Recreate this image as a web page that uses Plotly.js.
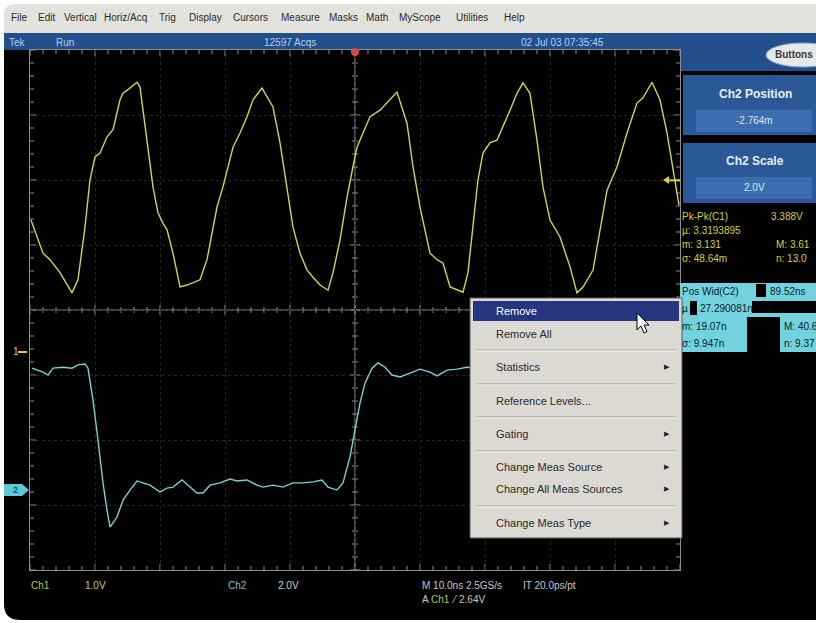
<!DOCTYPE html>
<html><head><meta charset="utf-8">
<script src="https://cdn.plot.ly/plotly-3.0.1.min.js"></script>
<style>html,body{margin:0;padding:0;background:#fff;overflow:hidden}#chart{width:816px;height:623px}</style>
</head><body><div id="chart"></div>
<script>
// ---- Channel 1 (yellow) : time in ns, volts ----
const ch1Time = [-49.85,-48.77,-48.0,-46.92,-45.38,-43.54,-42.62,-41.54,-40.77,-40.0,-39.23,-38.15,-37.23,-36.15,-35.69,-34.62,-33.54,-33.08,-32.0,-31.08,-30.31,-29.54,-28.92,-28.0,-26.92,-25.85,-23.85,-22.77,-21.23,-20.31,-18.77,-17.69,-16.62,-15.69,-14.31,-13.54,-12.62,-11.54,-10.46,-9.54,-8.46,-7.38,-6.46,-5.38,-4.15,-3.38,-2.31,-1.23,-0.31,0.31,1.23,2.31,3.85,5.38,6.46,8.0,8.92,10.0,11.54,12.62,13.54,14.62,16.62,17.38,18.15,18.92,19.69,20.77,21.85,22.77,23.85,24.92,25.85,26.92,28.0,28.92,30.0,31.54,33.08,34.15,35.08,36.62,38.15,38.77,40.31,41.85,43.38,44.31,45.69,46.92,48.0,48.92,49.85];
const ch1Volts = [2.03,1.72,1.52,1.42,1.22,0.91,1.11,1.92,2.65,3.00,3.06,3.31,3.42,3.88,3.98,4.06,4.15,4.08,3.26,2.54,2.14,1.98,1.88,1.52,1.00,1.03,1.11,1.42,2.23,2.54,3.15,3.37,3.62,3.88,4.06,3.92,3.77,3.22,2.54,1.92,1.52,1.26,1.15,1.03,0.95,1.22,1.72,2.38,2.85,3.15,3.37,3.62,3.72,3.88,4.00,3.52,2.85,2.23,1.52,1.42,1.37,1.00,0.92,1.22,1.92,2.65,3.06,3.22,3.26,3.46,3.72,3.98,4.14,3.98,3.26,2.54,2.03,1.77,1.31,0.91,1.00,1.26,2.14,2.49,2.85,3.37,3.83,3.91,4.15,3.88,3.37,2.85,2.26];
// ---- Channel 2 (cyan) ----
const ch2Time = [-49.69,-48.92,-48.0,-47.23,-46.46,-44.92,-43.54,-42.62,-41.54,-41.08,-40.31,-39.54,-38.77,-38.15,-37.69,-36.62,-35.69,-34.62,-33.54,-32.62,-31.54,-30.0,-28.92,-28.0,-26.62,-25.69,-24.31,-23.38,-22.31,-20.77,-19.23,-18.15,-16.62,-15.08,-14.15,-12.62,-11.08,-9.54,-8.0,-6.46,-5.08,-4.15,-2.77,-1.85,-0.77,0.0,0.77,1.54,2.62,3.54,4.62,5.69,6.92,8.46,10.0,11.54,12.62,14.15,15.69,17.23,22.31,31.54,40.77,50.0];
const ch2Volts = [3.75,3.69,3.63,3.54,3.75,3.78,3.75,3.85,3.88,3.75,2.77,1.54,0.22,-0.62,-1.14,-0.83,-0.31,0.0,0.28,0.22,0.15,-0.06,0.06,0.09,0.31,0.15,-0.09,-0.09,0.15,0.22,0.34,0.28,0.31,0.15,0.09,0.15,0.09,0.22,0.22,0.25,0.31,0.09,0.0,0.22,1.02,1.85,2.68,3.29,3.75,3.91,3.78,3.54,3.48,3.60,3.72,3.63,3.51,3.69,3.72,3.78,3.72,3.69,3.75,3.69];

// ---- scope settings / labels ----
const ch1Scale = 1.0, ch1GroundDiv = -0.646;
const ch2Scale = 2.0, ch2GroundDiv = -2.77;
const timeRange = [-50, 50];
const trigLevel = 2.64;
const menuItems = ['File','Edit','Vertical','Horiz/Acq','Trig','Display','Cursors','Measure','Masks','Math','MyScope','Utilities','Help'];
const statusTexts = ['Tek','Run','12597 Acqs','02 Jul 03 07:35:45'];
const ctxItems = ['Remove','Remove All','Statistics','Reference Levels...','Gating','Change Meas Source','Change All Meas Sources','Change Meas Type'];
const ctxSubmenu = [false,false,true,false,true,true,true,true];
const meas1Left = ['Pk-Pk(C1)','µ: 3.3193895','m: 3.131','σ: 48.64m'];
const meas1Right = ['3.388V','','M: 3.61','n: 13.0'];
const meas2Left = ['Pos Wid(C2)','µ','m: 19.07n','σ: 9.947n'];
const meas2Mid = ['','27.290081n','',''];
const meas2Right = ['89.52ns','','M: 40.6','n: 9.37'];

// ---- pixel -> paper helpers (plot area 30..680 x 50..570) ----
const L=30, T=50, W=650, H=520;
const X = p => (p - L) / W;
const Y = p => (T + H - p) / H;
const F = 'Liberation Sans, Arial, sans-serif';
const shapes = [], ann = [];
function rect(x0,y0,x1,y1,fill,layer,line){
  shapes.push({type:'rect',xref:'paper',yref:'paper',x0:X(x0),x1:X(x1),y0:Y(y1),y1:Y(y0),
    fillcolor:fill,line:line||{width:0},layer:layer||'above'});
}
function pline(x0,y0,x1,y1,color,w,layer){
  shapes.push({type:'line',xref:'paper',yref:'paper',x0:X(x0),x1:X(x1),y0:Y(y0),y1:Y(y1),
    line:{color:color,width:w||1},layer:layer||'above'});
}
function path(pts,fill,lineColor,layer){
  let d = pts.map((p,i)=>(i?'L':'M')+X(p[0])+','+Y(p[1])).join(' ')+' Z';
  shapes.push({type:'path',xref:'paper',yref:'paper',path:d,fillcolor:fill,
    line:lineColor?{color:lineColor,width:1}:{width:0},layer:layer||'above'});
}
function txt(x,y,t,size,color,anchor,fam,bold){
  ann.push({xref:'paper',yref:'paper',x:X(x),y:Y(y),text:bold?'<b>'+t+'</b>':t,showarrow:false,
    xanchor:anchor||'left',yanchor:'middle',font:{family:fam||F,size:size,color:color},borderpad:0});
}

// frame: light menu bar with rounded top-left, black body with rounded bottom-left
shapes.push({type:'path',xref:'paper',yref:'paper',layer:'below',fillcolor:'#e4e2dc',line:{width:0},
  path:'M'+X(816)+','+Y(4)+' L'+X(16)+','+Y(4)+' Q'+X(4)+','+Y(4)+' '+X(4)+','+Y(16)+' L'+X(4)+','+Y(40)+' L'+X(816)+','+Y(40)+' Z'});
shapes.push({type:'path',xref:'paper',yref:'paper',layer:'below',fillcolor:'#000000',line:{width:0},
  path:'M'+X(816)+','+Y(33)+' L'+X(4)+','+Y(33)+' L'+X(4)+','+Y(604)+' Q'+X(4)+','+Y(620)+' '+X(20)+','+Y(620)+' L'+X(816)+','+Y(620)+' Z'});
// status bar
rect(4,33,816,50,'#23508c','below');
rect(680,33,816,71,'#23508c','below');

// menu bar text
const menuX = [10,37,63,103,158,188,232,280,328,365,398,455,503];
menuItems.forEach((m,i)=>txt(menuX[i],17,m,10,'#2a2a2a'));
// status text
txt(8,42,statusTexts[0],10,'#b4cdf0');
txt(55,42,statusTexts[1],10,'#b4cdf0');
txt(263,42,statusTexts[2],10,'#b4cdf0');
txt(520,42,statusTexts[3],10,'#b4cdf0');
// Buttons oval
shapes.push({type:'circle',xref:'paper',yref:'paper',x0:X(766),x1:X(840),y0:Y(67),y1:Y(43),
  fillcolor:'#e6e8ea',line:{color:'#8fa6c4',width:1},layer:'above'});
txt(774,55,'Buttons',10,'#3a3a3a',null,F,true);

// right control panels
rect(683,75,816,135,'#2b5896');
rect(696,110,812,132,'#3b6db0');
txt(755,94,'Ch2 Position',12,'#e8eef8','center',F,true);
txt(754,121,'-2.764m',10,'#dde8ff','center');
rect(683,143,816,203,'#2b5896');
rect(696,177,812,199,'#3b6db0');
txt(755,161,'Ch2 Scale',12,'#e8eef8','center',F,true);
txt(754,188,'2.0V',10,'#dde8ff','center');

// measurement readouts
const mY1 = [216,230,244,258];
meas1Left.forEach((t,i)=>txt(681,mY1[i],t,10,'#d6d040'));
meas1Right.forEach((t,i)=>{ if(t) txt(i===0?770:775,mY1[i],t,10,'#d6d040'); });
rect(680,283,816,352,'#72d2de');
rect(756,284,766,297,'#000');
rect(690,301,697,315,'#000');
rect(752,301,816,313,'#000');
rect(747,317,780,352,'#000');
const mY2 = [291,308,326,343];
meas2Left.forEach((t,i)=>txt(681,mY2[i],t,10,'#0a2228'));
meas2Mid.forEach((t,i)=>{ if(t) txt(699,mY2[i],t,10,'#0a2228'); });
meas2Right.forEach((t,i)=>{ if(t) txt(i===0?769:783,mY2[i],t,10,'#0a2228'); });

// graticule: center cross + edge ticks
const gc = '#8e8e8e';
shapes.push({type:'line',xref:'x',yref:'paper',x0:0,x1:0,y0:0,y1:1,line:{color:gc,width:1},layer:'below'});
pline(30,310,680,310,gc,1,'below');
for(let i=0;i<=50;i++){
  const px=30+i*13, len=(i%5===0)?5:3;
  pline(px,310-len,px,310+len,gc,1,'below');
  pline(px,50,px,50+len+1,gc,1,'below');
  pline(px,570-len-1,px,570,gc,1,'below');
}
for(let i=0;i<=40;i++){
  const py=50+i*13, len=(i%5===0)?5:3;
  pline(355-len,py,355+len,py,gc,1,'below');
  pline(30,py,30+len+1,py,gc,1,'below');
  pline(680-len-1,py,680,py,gc,1,'below');
}

// channel markers
txt(12,352,'1',10,'#d6d040');
pline(18,352,27,352,'#d6d040',2);
path([[4,484],[22,484],[29,490],[22,496],[4,496]],'#5cc8d8');
txt(12,490,'2',9,'#0a3038');
// trigger position marker (red) and trigger level (yellow)
shapes.push({type:'circle',xref:'paper',yref:'paper',x0:X(351),x1:X(359),y0:Y(56),y1:Y(48),fillcolor:'#d84a4a',line:{width:0},layer:'above'});
shapes.push({type:'line',xref:'paper',yref:'y',x0:X(667),x1:X(680),y0:trigLevel,y1:trigLevel,line:{color:'#d6d040',width:2},layer:'above'});
shapes.push({type:'path',xref:'paper',yref:'paper',layer:'above',fillcolor:'#d6d040',line:{width:0},
  path:'M'+X(663)+','+Y(180)+' L'+X(669)+','+Y(176)+' L'+X(669)+','+Y(184)+' Z'});

// context menu
rect(470,298,682,538,'#dcd9d2','above',{color:'#5a5a5a',width:1});
rect(473,301,679,321,'#26357f');
const ctxY = [311,334,367,401,434,467,489,523];
ctxItems.forEach((t,i)=>{
  txt(495,ctxY[i],t,11,i===0?'#ffffff':'#2a2a2a');
  if(ctxSubmenu[i]) txt(667,ctxY[i],'▶',7,'#222','center','DejaVu Sans');
});
[350,384,417,451,506].forEach(y=>{ pline(476,y,676,y,'#a09d97',1); pline(476,y+1,676,y+1,'#f4f2ee',1); });
// mouse pointer
path([[637,313],[637,330],[641,326],[644,333],[647,331.5],[644,325],[649,325]],'#ffffff','#000000');

// bottom readouts
txt(30,585,'Ch1',10,'#b8c850');
txt(84,585,'1.0V',10,'#c8cc70');
txt(227,585,'Ch2',10,'#80c4c8');
txt(277,585,'2.0V',10,'#c0d4d4');
txt(421,585,'M 10.0ns 2.5GS/s',10,'#c8c8c8');
txt(522,585,'IT 20.0ps/pt',10,'#c8c8c8');
txt(421,599,'A',10,'#c8c8c8');
txt(430,599,'Ch1',10,'#b8c850');
txt(450,599,'⁄',10,'#c8c8c8');
txt(458,599,'2.64V',10,'#c8c8c8');

const axCommon = {showticklabels:false,zeroline:false,showline:true,linecolor:'#8e8e8e',linewidth:1,
  mirror:true,ticks:'',showgrid:true,gridcolor:'#262626',griddash:'dot',fixedrange:true};
const y1Range = [(-4-ch1GroundDiv)*ch1Scale,(4-ch1GroundDiv)*ch1Scale];
const y2Range = [(-4-ch2GroundDiv)*ch2Scale,(4-ch2GroundDiv)*ch2Scale];

const data = [
  {x:ch2Time,y:ch2Volts,yaxis:'y2',type:'scatter',mode:'lines',line:{color:'#86ccd4',width:1.4},hoverinfo:'skip'},
  {x:ch1Time,y:ch1Volts,yaxis:'y',type:'scatter',mode:'lines',line:{color:'#d2d452',width:1.4},hoverinfo:'skip'}
];
const layout = {
  width:816,height:623,margin:{l:L,r:816-L-W,t:T,b:623-T-H},
  paper_bgcolor:'#ffffff',plot_bgcolor:'#000000',showlegend:false,
  xaxis:Object.assign({},axCommon,{range:timeRange,tick0:0,dtick:10}),
  yaxis:Object.assign({},axCommon,{range:y1Range,tick0:-ch1GroundDiv*ch1Scale,dtick:ch1Scale}),
  yaxis2:{overlaying:'y',range:y2Range,visible:false,fixedrange:true},
  shapes:shapes,annotations:ann
};
Plotly.newPlot('chart',data,layout,{displayModeBar:false,staticPlot:true});
</script></body></html>
